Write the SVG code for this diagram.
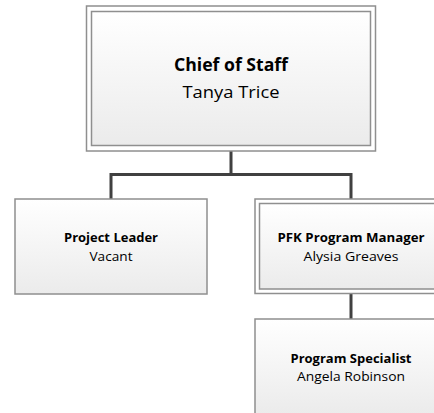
<svg xmlns="http://www.w3.org/2000/svg" width="434" height="413" viewBox="0 0 434 413">
  <defs>
    <linearGradient id="boxFill" x1="0" y1="0" x2="0" y2="1">
      <stop offset="0" stop-color="#ffffff"/>
      <stop offset="1" stop-color="#ebebeb"/>
    </linearGradient>
    <style>
      .frame { fill: #ffffff; stroke: #8f8f8f; stroke-width: 1.5; }
      .box { fill: url(#boxFill); stroke: #8f8f8f; stroke-width: 1.5; }
      .link { fill: none; stroke: #404040; stroke-width: 3; }
      text { font-family: "Open Sans", "Noto Sans", "Liberation Sans", sans-serif; fill: #000; text-anchor: middle; }
      .title { font-weight: bold; }
      .big { font-size: 17px; }
      .small { font-size: 12.5px; }
    </style>
  </defs>
  <rect width="434" height="413" fill="#ffffff"/>

  <!-- reporting lines -->
  <g id="connectors">
    <path class="link" d="M231 151 V174.5 M111 199 V174.5 H351 V199"/>
    <path class="link" d="M351 293.5 V319"/>
  </g>

  <g id="chief-of-staff">
    <rect class="frame" x="86.5" y="6" width="289" height="145"/>
    <rect class="box" x="91.5" y="11.5" width="279" height="134"/>
    <text class="big title" x="231" y="71" textLength="114" lengthAdjust="spacingAndGlyphs">Chief of Staff</text>
    <text class="big" x="231" y="98" textLength="97" lengthAdjust="spacingAndGlyphs">Tanya Trice</text>
  </g>

  <g id="project-leader">
    <rect class="box" x="15" y="199" width="192" height="95"/>
    <text class="small title" x="111" y="242" textLength="94" lengthAdjust="spacingAndGlyphs">Project Leader</text>
    <text class="small" x="111" y="261" textLength="43" lengthAdjust="spacingAndGlyphs">Vacant</text>
  </g>

  <g id="pfk-program-manager">
    <rect class="frame" x="255" y="199" width="192" height="94.5"/>
    <rect class="box" x="259.5" y="203.5" width="183" height="85.5"/>
    <text class="small title" x="351" y="242" textLength="147" lengthAdjust="spacingAndGlyphs">PFK Program Manager</text>
    <text class="small" x="351" y="261" textLength="95" lengthAdjust="spacingAndGlyphs">Alysia Greaves</text>
  </g>

  <g id="program-specialist">
    <rect class="box" x="255" y="319" width="192" height="95"/>
    <text class="small title" x="351" y="362.5" textLength="121" lengthAdjust="spacingAndGlyphs">Program Specialist</text>
    <text class="small" x="351" y="380.5" textLength="108" lengthAdjust="spacingAndGlyphs">Angela Robinson</text>
  </g>
</svg>
